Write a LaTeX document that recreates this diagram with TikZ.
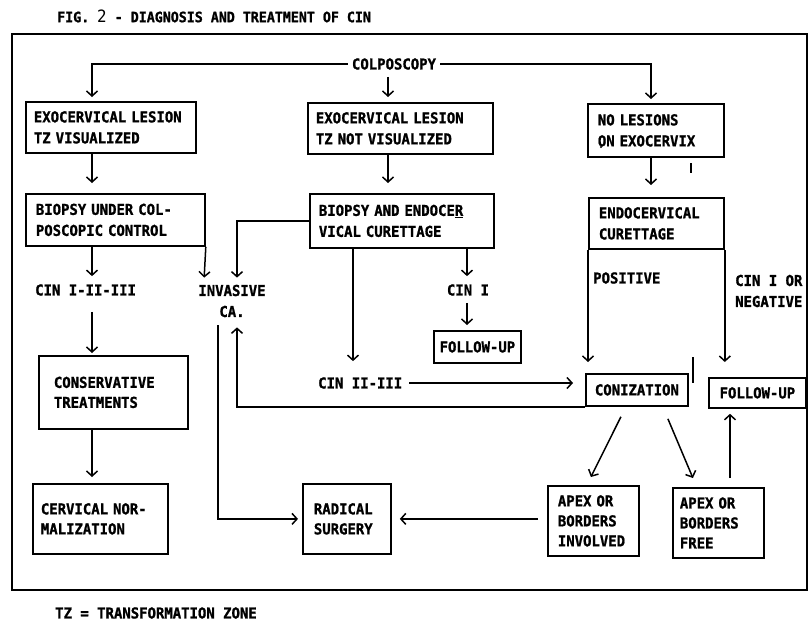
\documentclass[tikz,border=0pt]{standalone}
\usepackage{fontspec}
\setmainfont{DejaVu Sans Mono}[FakeStretch=0.93, BoldFeatures={FakeBold=1.2}]
\usetikzlibrary{arrows.meta}
\begin{document}
\begin{tikzpicture}[x=1pt,y=-1pt,
  every node/.style={font=\bfseries\fontsize{15}{21}\selectfont, inner sep=4pt},
  bx/.style={draw, line width=1.8pt, anchor=north west, align=left, inner ysep=0pt},
  lowbx/.style={bx, font=\bfseries\fontsize{15}{20}\selectfont},
  arr/.style={line width=1.5pt, -{Straight Barb[length=5pt,width=11pt,line width=1.5pt]}},
  tick/.style={line width=1.3pt}]
\useasboundingbox (0,0) rectangle (811,621);
\fill[white] (0,0) rectangle (811,621);

% title, frame, footnote
\node[anchor=west, font=\bfseries\fontsize{14.3}{16}\selectfont] (title) at (53,16) {FIG. {\mdseries\fontsize{17}{17}\selectfont 2} - DIAGNOSIS AND TREATMENT OF CIN};
\draw[line width=1.8pt] (12,34) rectangle (807,590);
\node[anchor=west] (tz) at (51,613) {TZ = TRANSFORMATION ZONE};

% boxes
\node[bx, minimum height=51pt, text width=154pt, inner xsep=8pt] (b1) at (25,101) {EXOCERVICAL LESION\\TZ VISUALIZED};
\node[bx, minimum height=51pt, text width=169pt, inner xsep=8pt] (b2) at (307,102) {EXOCERVICAL LESION\\TZ NOT VISUALIZED};
\node[bx, minimum height=53pt, text width=116pt, inner xsep=10pt] (b3) at (587,103) {NO LESIONS\\ON EXOCERVIX};
\node[bx, minimum height=52pt, text width=159pt, inner xsep=10pt] (b4) at (25,193) {BIOPSY UNDER COL-\\POSCOPIC CONTROL};
\node[bx, minimum height=54pt, text width=166pt, inner xsep=9pt] (b5) at (309,193) {BIOPSY AND ENDOCE\underline{R}\\VICAL CURETTAGE};
\node[bx, minimum height=51pt, text width=115pt, inner xsep=10pt] (b6) at (588,197) {ENDOCERVICAL\\CURETTAGE};
\node[bx, align=center, minimum height=32pt, text width=79pt, inner xsep=4pt] (fu1) at (433,330) {FOLLOW-UP};
\node[bx, align=center, minimum height=32pt, text width=86pt, inner xsep=8pt] (coniz) at (585,373) {CONIZATION};
\node[bx, align=center, minimum height=30pt, text width=81pt, inner xsep=8pt] (fu2) at (708,377) {FOLLOW-UP};
\node[lowbx, minimum height=73pt, text width=119pt, inner xsep=15pt] (cons) at (38,355) {CONSERVATIVE\\TREATMENTS};
\node[lowbx, minimum height=70pt, text width=119pt, inner xsep=8pt] (cerv) at (32,483) {CERVICAL NOR-\\MALIZATION};
\node[lowbx, minimum height=70pt, text width=66pt, inner xsep=11pt] (rad) at (302,483) {RADICAL\\SURGERY};
\node[lowbx, minimum height=70pt, text width=71pt, inner xsep=10pt] (apexI) at (547,485) {APEX OR\\BORDERS\\INVOLVED};
\node[lowbx, minimum height=70pt, text width=77pt, inner xsep=7pt] (apexF) at (672,487) {APEX OR\\BORDERS\\FREE};

% free labels
\node (colp) at (394,64) {COLPOSCOPY};
\node[anchor=west] (cin123) at (31,290) {CIN I-II-III};
\node[align=center] (inv) at (232,301) {INVASIVE\\CA.};
\node (cin1) at (468,290) {CIN I};
\node[anchor=west] (cin23) at (314,383) {CIN II-III};
\node[anchor=west] (pos) at (589,278) {POSITIVE};
\node[anchor=west, align=left] (cinneg) at (731,291) {CIN I OR\\NEGATIVE};

% arrow columns
\coordinate (cA) at (92,0);
\coordinate (cB) at (388,0);
\coordinate (cC) at (651,0);
\coordinate (cD) at (204,0);
\coordinate (cE) at (237,0);
\coordinate (cF) at (218,0);
\coordinate (cG) at (467,0);
\coordinate (cH) at (353,0);
\coordinate (cI) at (730,0);

% connectors
\draw[arr, shorten >=4pt] (colp.west) -| (cA |- b1.north);
\draw[arr, shorten <=3pt, shorten >=5pt] (cB |- colp.south) -- (cB |- b2.north);
\draw[arr, shorten >=4pt] (colp.east) -| (cC |- b3.north);
\draw[arr, shorten >=10pt] (cA |- b1.south) -- (cA |- b4.north);
\draw[arr, shorten >=10pt] (cB |- b2.south) -- (cB |- b5.north);
\draw[arr, shorten >=12pt] (cC |- b3.south) -- (cC |- b6.north);
\draw[arr, shorten >=4pt] (cA |- b4.south) -- (cA |- cin123.north);
\draw[arr, shorten >=3pt] (b4.south east) -- (cD |- inv.north);
\draw[arr, shorten >=3pt] (b5.west) -| (cE |- inv.north);
\draw[arr, shorten >=4pt] (cG |- b5.south) -- (cG |- cin1.north);
\draw[arr, shorten <=3pt, shorten >=5pt] (cG |- cin1.south) -- (cG |- fu1.north);
\draw[arr, shorten >=12pt] (cH |- b5.south) -- (cH |- cin23.north);
\draw[arr, shorten <=3pt, shorten >=12pt] (cin23.east) -- (cin23.east -| coniz.west);
\draw[arr, shorten >=11pt] (b6.south west) -- (b6.south west |- coniz.north);
\draw[arr, shorten >=15pt] (b6.south east) -- (b6.south east |- fu2.north);
\draw[arr, shorten >=6pt] (coniz.south west) -| (cE |- inv.south);
\draw[arr, shorten <=4pt, shorten >=4pt] (cF |- inv.south) |- (rad.west);
\draw[arr, shorten <=12pt, shorten >=2pt] (cA |- cin123.south) -- (cA |- cons.north);
\draw[arr, shorten >=6pt] (cA |- cons.south) -- (cA |- cerv.north);
\draw[arr, shorten <=9pt, shorten >=8pt] (apexI.west |- rad.east) -- (rad.east);
\draw[arr] ([xshift=-16pt,yshift=-10pt]coniz.south) -- ([xshift=-2.5pt,yshift=8pt]apexI.north);
\draw[arr] ([xshift=31pt,yshift=-12pt]coniz.south) -- ([xshift=-25.5pt,yshift=9pt]apexF.north);
\draw[arr, shorten <=9pt, shorten >=5pt] (cI |- apexF.north) -- (cI |- fu2.south);

% stray marks of the original
\draw[tick] (691,163) -- (691,173);
\draw[tick] (693,357) -- (693,383);
\fill (601,147) circle (1.2);
\end{tikzpicture}
\end{document}
